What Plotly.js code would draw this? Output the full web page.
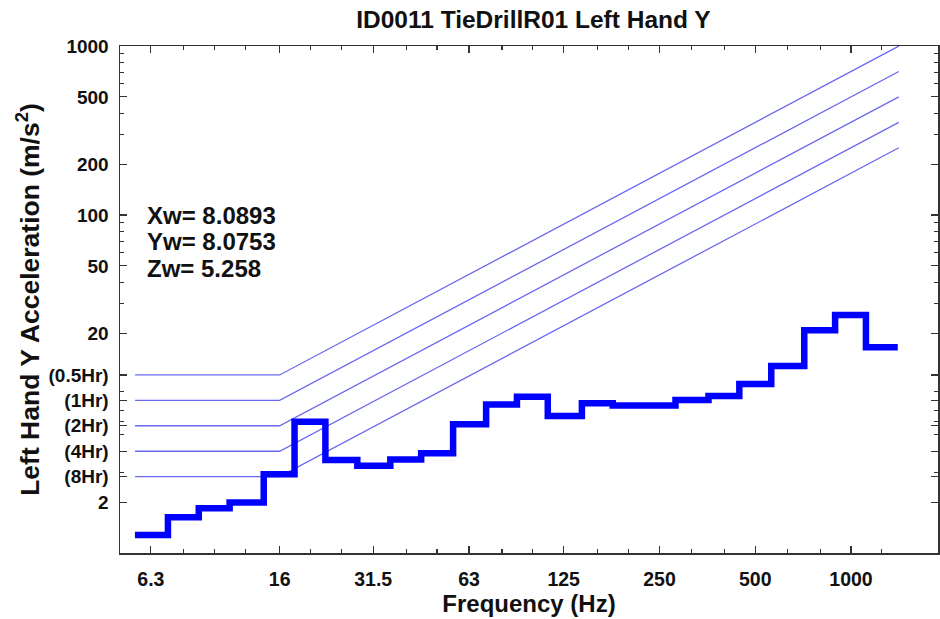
<!DOCTYPE html>
<html>
<head>
<meta charset="utf-8">
<script src="https://cdn.plot.ly/plotly-3.0.1.min.js"></script>
<style>html,body{margin:0;padding:0;background:#fff;}#chart{width:940px;height:619px;}</style>
</head>
<body>
<div id="chart"></div>
<script>
// Third-octave band centre frequencies (Hz)
const bandCenters = [6.3, 8, 10, 12.5, 16, 20, 25, 31.5, 40, 50, 63, 80, 100, 125, 160, 200, 250, 315, 400, 500, 630, 800, 1000, 1250];
// Left hand Y acceleration per band (m/s^2)
const accel = [1.28, 1.63, 1.84, 1.99, 2.92, 5.98, 3.55, 3.28, 3.58, 3.89, 5.77, 7.57, 8.40, 6.46, 7.68, 7.47, 7.45, 8.03, 8.48, 9.99, 12.8, 20.8, 25.6, 16.5];

// Exposure limit curves: flat level below 16 Hz, rising with frequency above
const hrLabels = ['(8Hr)', '(4Hr)', '(2Hr)', '(1Hr)', '(0.5Hr)'];
const hrLevels = [2.83, 4.0, 5.66, 8.0, 11.31];
const limitFreq = [5.62, 16, 1413];
const limitCorner = 16;

// Labelled x ticks
const xTickVals = [6.3, 16, 31.5, 63, 125, 250, 500, 1000];
const xTickText = ['6.3', '16', '31.5', '63', '125', '250', '500', '1000'];
// Plain y ticks
const yPlainVals = [2, 20, 50, 100, 200, 500, 1000];

// Weighted values text
const wLabels = ['Xw', 'Yw', 'Zw'];
const wValues = ['8.0893', '8.0753', '5.258'];

const traces = [];
const limitColor = 'rgb(105,105,240)';
hrLevels.forEach((L, i) => {
  traces.push({
    x: limitFreq,
    y: limitFreq.map(f => L * Math.max(1, f / limitCorner)),
    mode: 'lines', type: 'scatter',
    line: {color: limitColor, width: 1.3},
    hoverinfo: 'skip', showlegend: false, name: hrLabels[i]
  });
});

// Step line built from band edges
const half = Math.pow(10, 0.05);
const stepX = bandCenters.map(c => c / half);
stepX.push(bandCenters[bandCenters.length - 1] * half);
const stepY = accel.slice();
stepY.push(accel[accel.length - 1]);
traces.push({
  x: stepX, y: stepY, mode: 'lines', type: 'scatter',
  line: {color: '#0000ff', width: 6.5, shape: 'hv'},
  showlegend: false, name: 'Left Hand Y'
});

// y tick set combining plain values and hour labels
const yTickVals = [], yTickText = [];
yPlainVals.forEach(v => { yTickVals.push(v); yTickText.push(String(v)); });
hrLevels.forEach((v, i) => { yTickVals.push(v); yTickText.push(hrLabels[i]); });

// log minor ticks for y axis
const yMinor = [];
for (let d = 1; d <= 100; d *= 10) for (let m = 2; m <= 9; m++) yMinor.push(m * d);

const annotations = wLabels.map((lab, i) => ({
  text: lab + '= ' + wValues[i],
  xref: 'paper', yref: 'paper',
  x: 0.031, y: 0.666 - i * 0.0525,
  xanchor: 'left', yanchor: 'middle', showarrow: false,
  font: {size: 24, color: '#111', weight: 700}
}));

const axisCommon = {
  type: 'log', tickmode: 'array', ticks: 'inside', ticklen: 7, tickwidth: 1.2, tickcolor: '#333',
  showline: true, linecolor: '#333', linewidth: 1.5, mirror: 'ticks',
  showgrid: false, zeroline: false,
  tickfont: {size: 19.5, color: '#111', weight: 700}
};

const layout = {
  width: 940, height: 619,
  margin: {l: 120, r: 2, t: 46, b: 66},
  paper_bgcolor: '#fff', plot_bgcolor: '#fff',
  font: {family: 'Liberation Sans, Arial, sans-serif', color: '#111'},
  title: {text: 'ID0011 TieDrillR01 Left Hand Y', font: {size: 24.5, weight: 700, color: '#111'},
          x: 0.5675, xref: 'container', y: 0.968, yref: 'container', yanchor: 'middle'},
  showlegend: false,
  xaxis: Object.assign({}, axisCommon, {
    range: [0.7024, 3.2734],
    tickvals: xTickVals, ticktext: xTickText,
    ticklabelstandoff: 8,
    minor: {tickmode: 'array', tickvals: bandCenters, ticks: 'inside', ticklen: 4, tickcolor: '#333', showgrid: false},
    title: {text: 'Frequency (Hz)', font: {size: 24, weight: 700, color: '#111'}, standoff: 4}
  }),
  yaxis: Object.assign({}, axisCommon, {
    range: [0, 3],
    tickvals: yTickVals, ticktext: yTickText,
    ticklabelstandoff: 6,
    tickfont: {size: 19, color: '#111', weight: 700},
    minor: {tickmode: 'array', tickvals: yMinor, ticks: 'inside', ticklen: 4, tickcolor: '#333', showgrid: false},
    title: {text: 'Left Hand Y Acceleration (m/s<sup>2</sup>)', font: {size: 26.5, weight: 700, color: '#111'}, standoff: 1}
  }),
  annotations: annotations
};

Plotly.newPlot('chart', traces, layout, {displayModeBar: false, staticPlot: true});
</script>
</body>
</html>
